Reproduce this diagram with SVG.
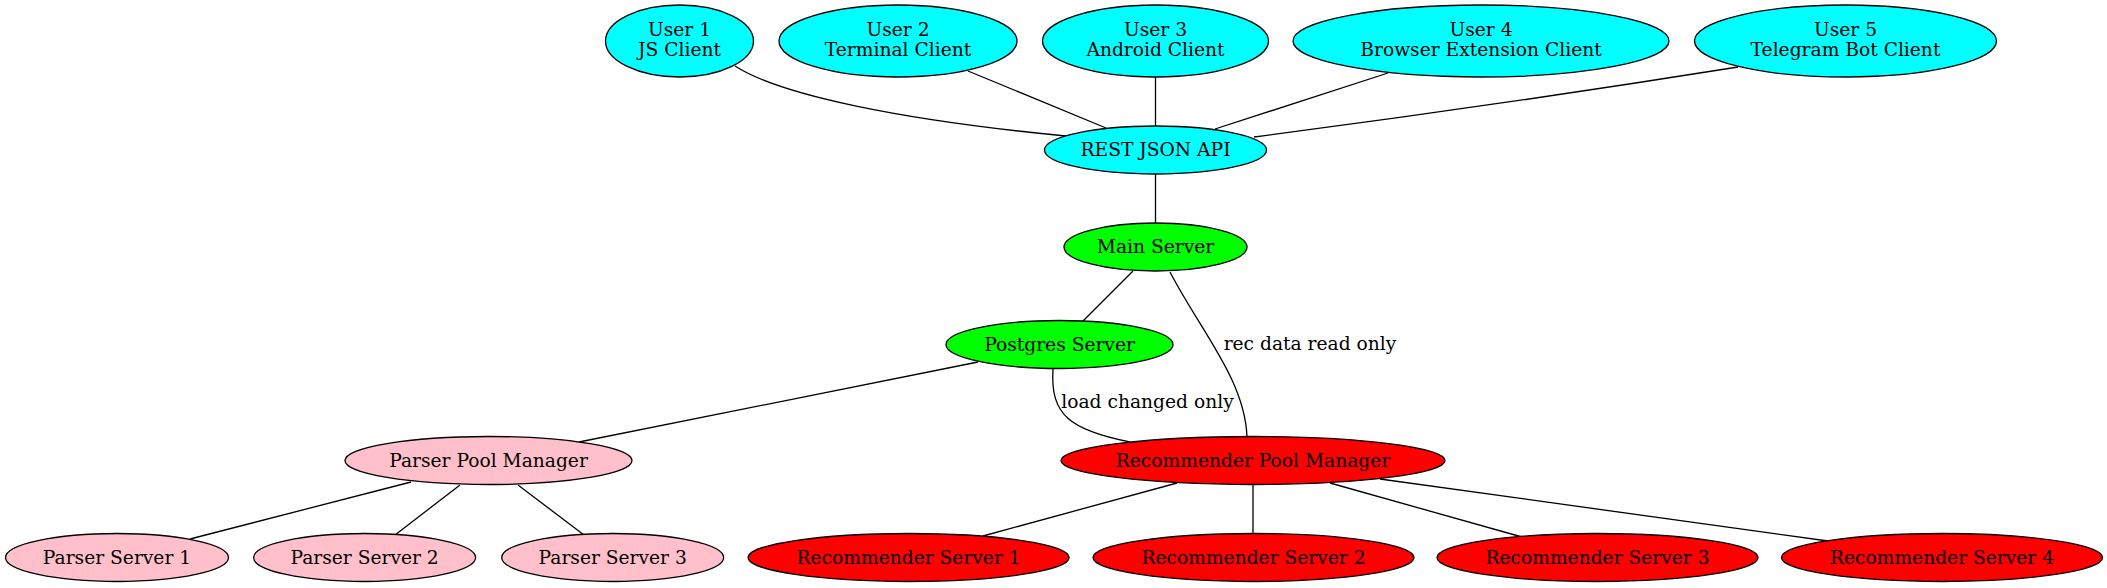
<svg xmlns="http://www.w3.org/2000/svg" width="2107" height="588" viewBox="0 0 2107 588">
<style>
.n ellipse{stroke:#000;stroke-width:1.3}
.cyan ellipse{fill:#00ffff}
.green ellipse{fill:#00ff00}
.pink ellipse{fill:#ffc0cb}
.red ellipse{fill:#ff0000}
text{font-family:"DejaVu Serif","Liberation Serif",serif;font-size:18.67px;fill:#000;text-anchor:middle}
#edges path{fill:none;stroke:#000;stroke-width:1.3}
</style>
<rect width="2107" height="588" fill="#fff"/>
<g id="edges">
<path d="M735,66 C780,95 900,120 1066,136"/>
<path d="M968,71 L1106,128"/>
<path d="M1155.5,77 L1155.5,127"/>
<path d="M1388,73 L1215,129"/>
<path d="M1738,67 Q1500,105 1254,137"/>
<path d="M1155.5,174 L1155.5,223"/>
<path d="M1133,271 L1083,321"/>
<path d="M1170,272 C1200,330 1245,380 1247,437"/>
<path d="M1053,369 C1050,415 1070,430 1130,442"/>
<path d="M978,362 L579,442"/>
<path d="M411,482 L190,539"/>
<path d="M460,485 L395,535"/>
<path d="M518,485 L584,535"/>
<path d="M1177,483 L983,536"/>
<path d="M1253,484 L1253,534"/>
<path d="M1330,483 L1522,537"/>
<path d="M1380,479 L1828,541"/>
<text x="1310" y="350">rec data read only</text>
<text x="1147.5" y="408">load changed only</text>
</g>
<g id="user1" class="n cyan"><ellipse cx="679.5" cy="41" rx="74" ry="36"/><text x="679.5" y="35.5">User 1</text><text x="679.5" y="56">JS Client</text></g>
<g id="user2" class="n cyan"><ellipse cx="898" cy="41" rx="119" ry="36"/><text x="898" y="35.5">User 2</text><text x="898" y="56">Terminal Client</text></g>
<g id="user3" class="n cyan"><ellipse cx="1155.5" cy="41" rx="113" ry="36"/><text x="1155.5" y="35.5">User 3</text><text x="1155.5" y="56">Android Client</text></g>
<g id="user4" class="n cyan"><ellipse cx="1481" cy="41" rx="188" ry="36"/><text x="1481" y="35.5">User 4</text><text x="1481" y="56">Browser Extension Client</text></g>
<g id="user5" class="n cyan"><ellipse cx="1845.5" cy="41" rx="151" ry="36"/><text x="1845.5" y="35.5">User 5</text><text x="1845.5" y="56">Telegram Bot Client</text></g>
<g id="rest" class="n cyan"><ellipse cx="1155.5" cy="150" rx="111" ry="24"/><text x="1155.5" y="156">REST JSON API</text></g>
<g id="main" class="n green"><ellipse cx="1155.5" cy="247" rx="91.5" ry="24"/><text x="1155.5" y="253">Main Server</text></g>
<g id="postgres" class="n green"><ellipse cx="1059.5" cy="344.5" rx="113.5" ry="24"/><text x="1059.5" y="350.5">Postgres Server</text></g>
<g id="parserpool" class="n pink"><ellipse cx="488.5" cy="460.5" rx="143.5" ry="24"/><text x="488.5" y="466.5">Parser Pool Manager</text></g>
<g id="recpool" class="n red"><ellipse cx="1253" cy="460.5" rx="192" ry="24"/><text x="1253" y="466.5">Recommender Pool Manager</text></g>
<g id="ps1" class="n pink"><ellipse cx="117" cy="557.5" rx="111.5" ry="24"/><text x="117" y="563.5">Parser Server 1</text></g>
<g id="ps2" class="n pink"><ellipse cx="364.6" cy="557.5" rx="111" ry="24"/><text x="364.6" y="563.5">Parser Server 2</text></g>
<g id="ps3" class="n pink"><ellipse cx="612.7" cy="557.5" rx="111" ry="24"/><text x="612.7" y="563.5">Parser Server 3</text></g>
<g id="rs1" class="n red"><ellipse cx="908.6" cy="557.5" rx="160.5" ry="24"/><text x="908.6" y="563.5">Recommender Server 1</text></g>
<g id="rs2" class="n red"><ellipse cx="1253.5" cy="557.5" rx="160.5" ry="24"/><text x="1253.5" y="563.5">Recommender Server 2</text></g>
<g id="rs3" class="n red"><ellipse cx="1597.5" cy="557.5" rx="160.5" ry="24"/><text x="1597.5" y="563.5">Recommender Server 3</text></g>
<g id="rs4" class="n red"><ellipse cx="1942" cy="557.5" rx="160.5" ry="24"/><text x="1942" y="563.5">Recommender Server 4</text></g>
</svg>
